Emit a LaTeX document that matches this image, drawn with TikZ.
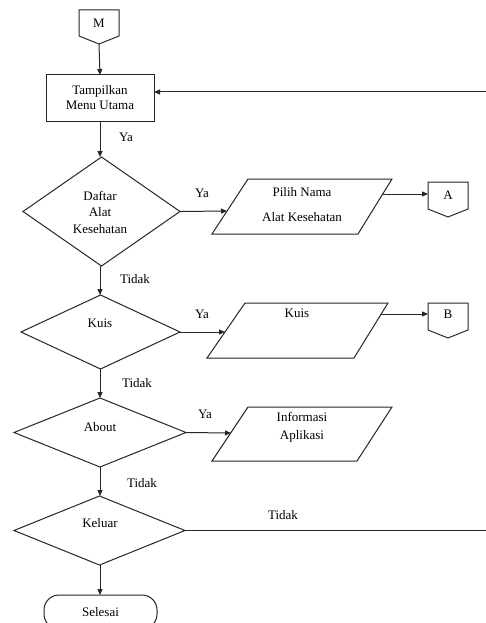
\documentclass[tikz,border=0pt]{standalone}
\usepackage{fontspec}
\setmainfont{Liberation Serif}
\usetikzlibrary{shapes.geometric,arrows.meta}
\begin{document}
\begin{tikzpicture}[x=1pt,y=-1pt,
  line width=1pt, draw=black!85,
  every node/.style={font=\fontsize{13}{15}\selectfont, inner sep=0pt, outer sep=0pt},
  arr/.style={-{Triangle[length=6pt,width=5pt]}},
  dec/.style={shape=diamond, draw},
  lbl/.style={},
  procbox/.style={draw, rectangle},
  term/.style={draw, rectangle, rounded corners=15pt}
]
\fill[white] (0,0) rectangle (485,623);
\useasboundingbox (0,0) rectangle (485,623);

% off-page connector M
\draw (79,10) -- (119,10) -- (119,36) -- (99,44) -- (79,36) -- cycle;
\node (m) at (99,23) {M};
\coordinate (mb) at (99,44);

% main menu box
\node[procbox, minimum width=108pt, minimum height=46pt, align=center] (menu) at (100,98) {Tampilkan\\Menu Utama};

% decisions
\node[dec, minimum width=157pt, minimum height=109pt] (d1) at (101.5,211.5) {};
\node[align=center, font=\fontsize{13}{16.5}\selectfont] (d1t) at (100,212) {Daftar\\Alat\\Kesehatan};
\node[dec, minimum width=159pt, minimum height=74pt] (d2) at (100.5,332) {};
\node (d2t) at (100,323) {Kuis};
\node[dec, minimum width=172pt, minimum height=69pt] (d3) at (100,432.5) {};
\node (d3t) at (100,427) {About};
\node[dec, minimum width=171pt, minimum height=69pt] (d4) at (99.5,530.5) {};
\node (d4t) at (100,523) {Keluar};

% terminator
\node[term, minimum width=113pt, minimum height=34pt] (end) at (100.5,612) {Selesai};

% parallelograms
\draw (248,179) -- (392,179) -- (358,234) -- (212,234) -- cycle;
\node[align=center, font=\fontsize{13}{25}\selectfont] (p1t) at (302,204.5) {Pilih Nama\\Alat Kesehatan};
\coordinate (p1in) at (227,211);
\coordinate (p1out) at (383,194);

\draw (245,303) -- (388,303) -- (354,358) -- (207,358) -- cycle;
\node (p2t) at (297,313) {Kuis};
\coordinate (p2in) at (225,332);
\coordinate (p2out) at (381,314);

\draw (248,407) -- (392,407) -- (357,461) -- (212,461) -- cycle;
\node[align=center, font=\fontsize{13}{18}\selectfont] (p3t) at (302,427) {Informasi\\Aplikasi};
\coordinate (p3in) at (231,433);

% connectors A and B
\draw (428,182) -- (468,182) -- (468,209) -- (448,217) -- (428,209) -- cycle;
\node (a) at (448,195) {A};
\coordinate (ain) at (428,194);
\draw (428,303) -- (468,303) -- (468,330) -- (448,338) -- (428,330) -- cycle;
\node (b) at (448,314) {B};
\coordinate (bin) at (428,314);

% loop-back coordinates (right edge)
\coordinate (r1) at (488,530.5);
\coordinate (r2) at (488,92);

% arrows
\draw[arr] (mb) -- (menu.north);
\draw[arr] (menu.south) -- (d1.north -| menu.south);
\draw[arr] (d1.south -| menu.south) -- (d2.north -| menu.south);
\draw[arr] (d2.south -| menu.south) -- (d3.north -| menu.south);
\draw[arr] (d3.south -| menu.south) -- (d4.north -| menu.south);
\draw[arr] (d4.south -| menu.south) -- (end.north -| menu.south);

\draw[arr] (d1.east) -- (p1in);
\draw[arr] (p1out) -- (ain);
\draw[arr] (d2.east) -- (p2in);
\draw[arr] (p2out) -- (bin);
\draw[arr] (d3.east) -- (p3in);
\draw[arr] (d4.east) -- (r1) -- (r2) -- (r2 -| menu.east);

% labels
\node[lbl] (l1) at (126,137) {Ya};
\node[lbl] (l2) at (202,193) {Ya};
\node[lbl] (l3) at (135,279) {Tidak};
\node[lbl] (l4) at (202,314) {Ya};
\node[lbl] (l5) at (137,383) {Tidak};
\node[lbl] (l6) at (205,414) {Ya};
\node[lbl] (l7) at (142,483) {Tidak};
\node[lbl] (l8) at (283,515) {Tidak};
\end{tikzpicture}
\end{document}
